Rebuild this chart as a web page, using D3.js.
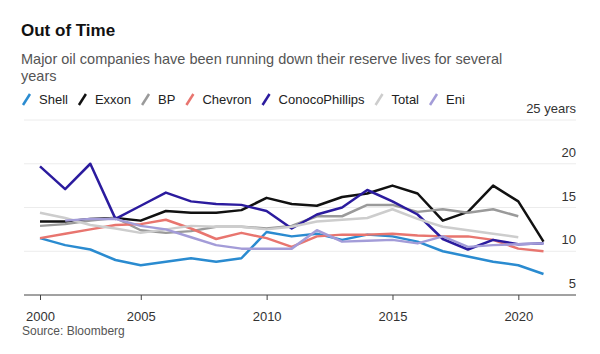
<!DOCTYPE html>
<html lang="en">
<head>
<meta charset="utf-8">
<title>Out of Time</title>
<script src="https://d3js.org/d3.v7.min.js"></script>
<style>
  body { margin: 0; background: #fff; }
  svg text { font-family: "Liberation Sans", Arial, Helvetica, sans-serif; }
  .title { font-size: 17px; font-weight: bold; fill: #111; }
  .subtitle { font-size: 14.5px; fill: #555; }
  .legend { font-size: 13px; fill: #222; }
  .ylabel { font-size: 13px; fill: #333; }
  .source { font-size: 12px; fill: #555; }
</style>
</head>
<body>
<div id="vis"></div>
<script>
// year-end values (reserve life, years)
const years = [2000, 2001, 2002, 2003, 2004, 2005, 2006, 2007, 2008, 2009, 2010,
               2011, 2012, 2013, 2014, 2015, 2016, 2017, 2018, 2019, 2020];
const companies = ["Shell", "Exxon", "BP", "Chevron", "ConocoPhillips", "Total", "Eni"];
const colors = ["#2a8bd0", "#111111", "#9a9a9a", "#e8756f", "#2b1b9e", "#cdcdcd", "#a39cd8"];

const shell   = [11.5, 10.7, 10.2, 9.0, 8.4, 8.8, 9.2, 8.8, 9.2, 12.2, 11.7, 12.0, 11.3, 11.9, 11.7, 11.1, 10.0, 9.4, 8.8, 8.4, 7.4];
const exxon   = [13.4, 13.4, 13.7, 13.8, 13.5, 14.6, 14.4, 14.4, 14.7, 16.1, 15.4, 15.2, 16.2, 16.6, 17.5, 16.6, 13.5, 14.5, 17.5, 15.7, 11.1];
const bp      = [12.9, 13.1, 13.5, 13.8, 12.4, 12.1, 12.3, 12.8, 12.8, 12.6, 12.9, 14.0, 14.0, 15.3, 15.3, 14.5, 14.8, 14.4, 14.8, 14.0];
const chevron = [11.5, 12.0, 12.5, 13.0, 13.1, 13.6, 12.6, 11.4, 12.1, 11.5, 10.5, 11.7, 11.9, 11.9, 12.0, 11.8, 11.7, 11.7, 11.3, 10.3, 10.0];
const conoco  = [19.7, 17.1, 20.0, 13.7, 15.2, 16.7, 15.7, 15.4, 15.3, 14.6, 12.6, 14.2, 15.0, 17.0, 15.7, 14.2, 11.4, 10.2, 11.3, 10.8, 10.9];
const total   = [14.4, 13.8, 13.0, 12.6, 12.1, 12.5, 12.9, 12.8, 12.8, 12.5, 12.8, 13.4, 13.6, 13.8, 14.8, 13.7, 12.8, 12.4, 12.0, 11.6];
const eni     = [null, 13.5, 13.7, 13.7, 12.9, 12.5, 11.6, 10.7, 10.3, 10.3, 10.3, 12.4, 11.1, 11.2, 11.3, 10.9, 11.7, 10.5, 10.7, 10.8, 10.9];
const series = [shell, exxon, bp, chevron, conoco, total, eni];

const yTicks = [5, 10, 15, 20, 25];
const xTickYears = [2005, 2010, 2015, 2020];

const width = 600, height = 354;

const svg = d3.select("#vis").append("svg")
    .attr("width", width)
    .attr("height", height);

// values are year-end readings
const yearEnd = y => new Date(y, 11, 31);

const x = d3.scaleTime()
    .domain([yearEnd(years[0]), yearEnd(years[years.length - 1])])
    .range([40, 543.5]);

const y = d3.scaleLinear()
    .domain([5, 25])
    .range([295, 120]);

// titles
svg.append("text").attr("class", "title").attr("x", 21).attr("y", 36).text("Out of Time");
svg.append("text").attr("class", "subtitle").attr("x", 21).attr("y", 64)
   .text("Major oil companies have been running down their reserve lives for several");
svg.append("text").attr("class", "subtitle").attr("x", 21).attr("y", 80.5).text("years");

// legend
let lx = 23;
companies.forEach((name, i) => {
    svg.append("line")
       .attr("x1", lx).attr("y1", 105)
       .attr("x2", lx + 7).attr("y2", 94)
       .attr("stroke", colors[i])
       .attr("stroke-width", 2.5);
    const t = svg.append("text").attr("class", "legend")
       .attr("x", lx + 16).attr("y", 104).text(name);
    lx += 16 + t.node().getComputedTextLength() + 11;
});

// gridlines + right labels
svg.append("g").selectAll("line")
   .data(yTicks.filter(d => d > 5))
   .join("line")
   .attr("x1", 24).attr("x2", 576)
   .attr("y1", d => y(d)).attr("y2", d => y(d))
   .attr("stroke", "#ececec")
   .attr("stroke-width", 1);

svg.append("g").selectAll("text")
   .data(yTicks)
   .join("text")
   .attr("class", "ylabel")
   .attr("x", 576)
   .attr("y", d => y(d) - 7)
   .attr("text-anchor", "end")
   .text(d => d === 25 ? "25 years" : d);

// x axis
const xAxis = d3.axisBottom(x)
    .tickValues([x.domain()[0]].concat(xTickYears.map(d => new Date(d, 0, 1))))
    .tickFormat(d3.timeFormat("%Y"))
    .tickSize(5)
    .tickPadding(12);

const gx = svg.append("g")
    .attr("transform", "translate(0," + y(5) + ")")
    .call(xAxis);
gx.select(".domain").remove();
gx.selectAll(".tick line").attr("stroke", "#444");
gx.selectAll(".tick text")
  .attr("font-family", "'Liberation Sans', Arial, sans-serif")
  .attr("font-size", 13)
  .attr("fill", "#333");

svg.append("line")
   .attr("x1", 24).attr("x2", 576)
   .attr("y1", y(5)).attr("y2", y(5))
   .attr("stroke", "#444")
   .attr("stroke-width", 1);

// lines
const line = d3.line()
    .defined(d => d.v !== null && d.v !== undefined)
    .x(d => x(yearEnd(d.year)))
    .y(d => y(d.v));

series.forEach((vals, i) => {
    const pts = vals.map((v, j) => ({ year: years[j], v: v }));
    svg.append("path")
       .datum(pts)
       .attr("fill", "none")
       .attr("stroke", colors[i])
       .attr("stroke-width", 2.5)
       .attr("stroke-linejoin", "round")
       .attr("d", line);
});

// source
svg.append("text").attr("class", "source").attr("x", 22).attr("y", 335).text("Source: Bloomberg");
</script>
</body>
</html>
